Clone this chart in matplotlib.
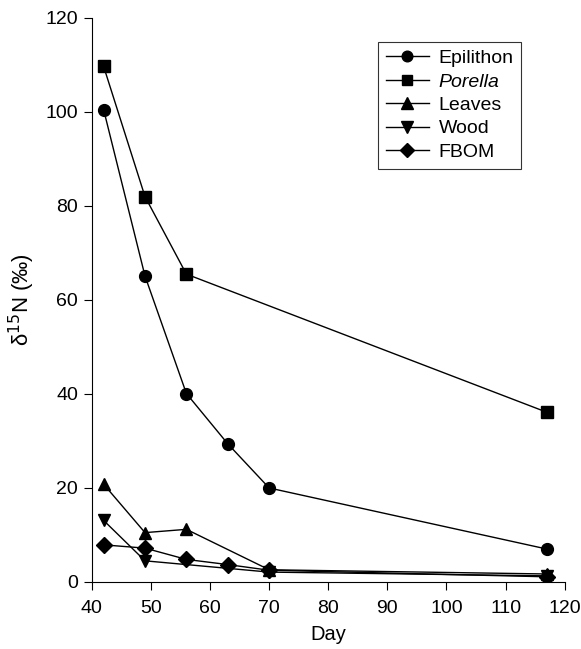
import matplotlib
matplotlib.use("Agg")
import matplotlib.pyplot as plt

plt.rcParams['font.family'] = ['Liberation Sans', 'DejaVu Sans']

epi_day = [42, 49, 56, 63, 70, 117]
epi_val = [100.4, 65.0, 40.0, 29.3, 19.9, 6.9]
por_day = [42, 49, 56, 117]
por_val = [109.6, 81.9, 65.4, 36.0]
lea_day = [42, 49, 56, 70, 117]
lea_val = [20.7, 10.4, 11.1, 2.5, 1.6]
woo_day = [42, 49, 70, 117]
woo_val = [13.0, 4.4, 2.0, 1.2]
fbo_day = [42, 49, 56, 63, 70, 117]
fbo_val = [7.8, 7.1, 4.7, 3.6, 2.4, 1.0]

x_ticks = [40, 50, 60, 70, 80, 90, 100, 110, 120]
y_ticks = [0, 20, 40, 60, 80, 100, 120]

fig = plt.figure(figsize=(5.81, 6.49), dpi=100)
ax = fig.add_axes([0.158, 0.104, 0.814, 0.869])

kw = dict(color='black', lw=1.0, markeredgecolor='black', markerfacecolor='black')
ax.plot(epi_day, epi_val, marker='o', ms=8.5, label='Epilithon', **kw)
ax.plot(por_day, por_val, marker='s', ms=8, label='Porella', **kw)
ax.plot(lea_day, lea_val, marker='^', ms=9, label='Leaves', **kw)
ax.plot(woo_day, woo_val, marker='v', ms=9, label='Wood', **kw)
ax.plot(fbo_day, fbo_val, marker='D', ms=8, label='FBOM', **kw)

ax.set_xlim(40, 120)
ax.set_ylim(0, 120)
ax.set_xticks(x_ticks)
ax.set_yticks(y_ticks)
ax.tick_params(direction='out', length=6, width=0.8, labelsize=14, colors='black', pad=4)
ax.tick_params(axis='x', pad=7)
for s in ['top', 'right']:
    ax.spines[s].set_visible(False)
ax.set_xlabel('Day', fontsize=14.5, labelpad=6)
ax.set_ylabel('δ$^{15}$N (‰)', fontsize=16, labelpad=6)

leg = ax.legend(loc='upper right', bbox_to_anchor=(0.908, 0.957), fontsize=14,
                frameon=True, fancybox=False, edgecolor='black', handlelength=2.2,
                handletextpad=0.5, labelspacing=0.3, borderpad=0.4, markerscale=0.9,
                borderaxespad=0)
leg.get_frame().set_linewidth(0.8)
leg.get_texts()[1].set_style('italic')

fig.savefig('out.png', dpi=100)
